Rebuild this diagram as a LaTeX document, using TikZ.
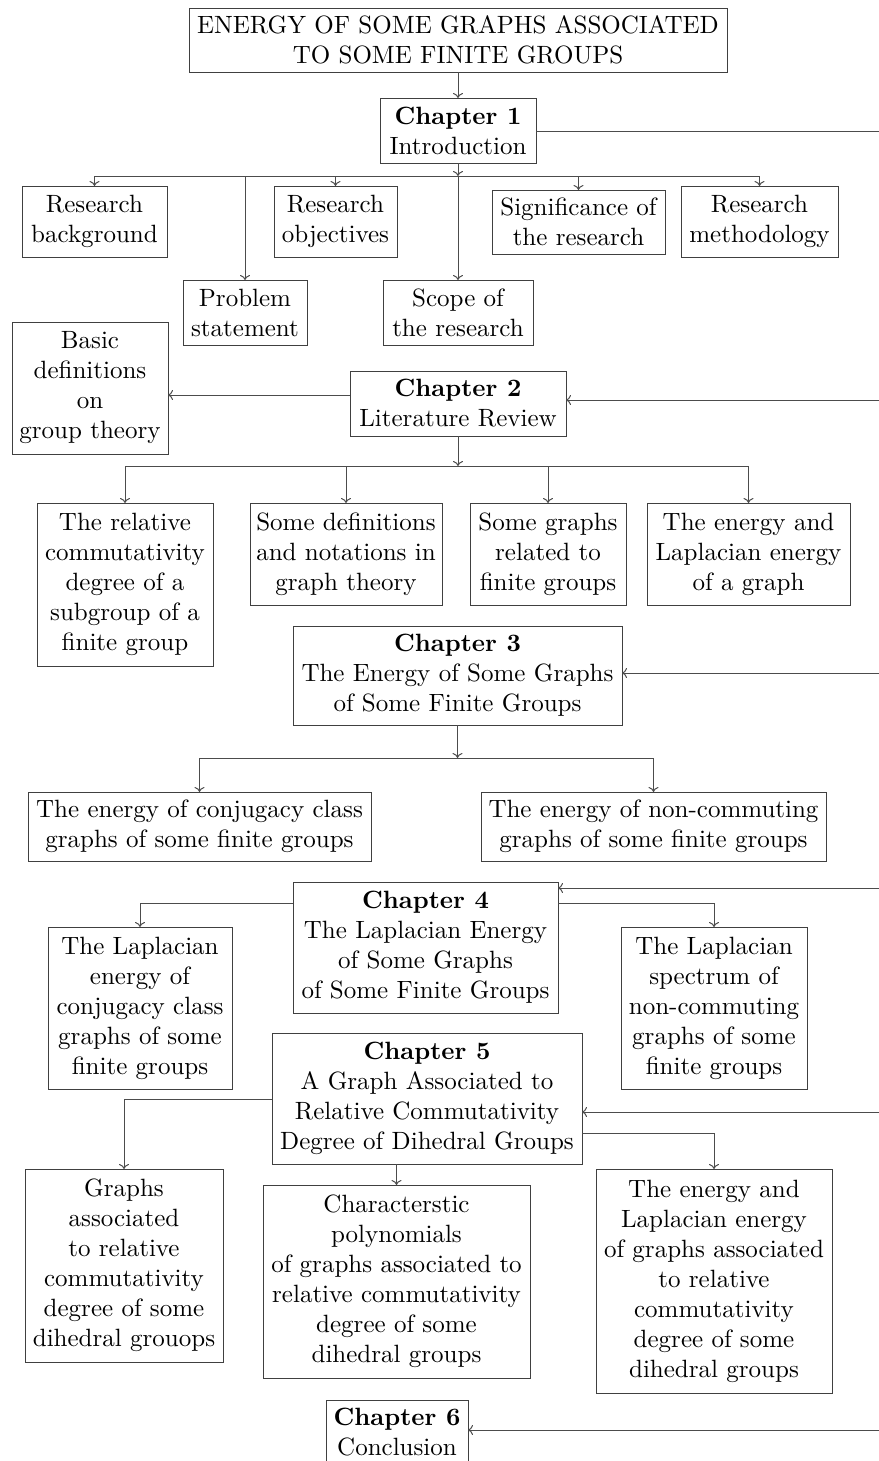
\documentclass[tikz,border=0pt]{standalone}
\usetikzlibrary{arrows.meta}
\newcommand\mybox[6]{\node[box,minimum width={(#4-#2)*0.4pt},minimum height={(#5-#3)*0.4pt}] (#1) at ({(#2+#4)/2},{(#3+#5)/2}) {#6};}
\begin{document}
\begin{tikzpicture}[x=0.4pt,y=-0.4pt,
  box/.style={draw=black!75, line width=0.4pt, align=center, inner sep=0pt, outer sep=0pt},
  ln/.style={draw=black!70, line width=0.4pt},
  arr/.style={ln, -{To[length=2pt,width=4pt]}}]
\useasboundingbox (0,0) rectangle (879,1461);
\clip (0,0) rectangle (879,1461);
% right edge coordinates
\coordinate (r1) at (879,131);
\coordinate (r2) at (879,400);
\coordinate (r3) at (879,673);
\coordinate (r4) at (879,888);
\coordinate (r5) at (879,1112);
\coordinate (r6) at (879,1430);
% boxes
\mybox{t}{189}{8}{727}{72}{ENERGY OF SOME GRAPHS ASSOCIATED\\TO SOME FINITE GROUPS}
\mybox{c1}{380}{98}{536}{163}{\textbf{Chapter 1}\\Introduction}
\mybox{rb}{22}{186}{167}{257}{Research\\background}
\mybox{ro}{274}{186}{397}{257}{Research\\objectives}
\mybox{sg}{492}{190}{665}{254}{Significance of\\the research}
\mybox{rm}{681}{186}{838}{257}{Research\\methodology}
\mybox{ps}{183}{280}{307}{345}{Problem\\statement}
\mybox{sc}{383}{280}{533}{345}{Scope of\\the research}
\mybox{bd}{12}{322}{168}{454}{Basic\\definitions\\on\\group theory}
\mybox{c2}{350}{371}{566}{436}{\textbf{Chapter 2}\\Literature Review}
\mybox{d1}{37}{503}{213}{666}{The relative\\commutativity\\degree of a\\subgroup of a\\finite group}
\mybox{d2}{250}{503}{442}{605}{Some definitions\\and notations in\\graph theory}
\mybox{d3}{470}{503}{626}{605}{Some graphs\\related to\\finite groups}
\mybox{d4}{647}{503}{850}{605}{The energy and\\Laplacian energy\\of a graph}
\mybox{c3}{293}{626}{622}{725}{\textbf{Chapter 3}\\The Energy of Some Graphs\\of Some Finite Groups}
\mybox{e1}{28}{792}{371}{861}{The energy of conjugacy class\\graphs of some finite groups}
\mybox{e2}{481}{792}{826}{861}{The energy of non-commuting\\graphs of some finite groups}
\mybox{c4}{293}{882}{558}{1013}{\textbf{Chapter 4}\\The Laplacian Energy\\of Some Graphs\\of Some Finite Groups}
\mybox{l1}{48}{927}{232}{1089}{The Laplacian\\energy of\\conjugacy class\\graphs of some\\finite groups}
\mybox{l2}{621}{927}{807}{1089}{The Laplacian\\spectrum of\\non-commuting\\graphs of some\\finite groups}
\mybox{c5}{272}{1033}{582}{1164}{\textbf{Chapter 5}\\A Graph Associated to\\Relative Commutativity\\Degree of Dihedral Groups}
\mybox{g1}{25}{1169}{223}{1362}{Graphs\\associated\\to relative\\commutativity\\degree of some\\dihedral grouops}
\mybox{g2}{263}{1185}{530}{1378}{Characterstic\\polynomials\\of graphs associated to\\relative commutativity\\degree of some\\dihedral groups}
\mybox{g3}{596}{1169}{832}{1393}{The energy and\\Laplacian energy\\of graphs associated\\to relative\\commutativity\\degree of some\\dihedral groups}
\mybox{c6}{326}{1400}{468}{1465}{\textbf{Chapter 6}\\Conclusion}
% chapter 1
\draw[arr] (t.south) -- (t.south |- c1.north);
\coordinate (b1) at (c1.south |- 0,176);
\draw[arr] (c1.south) -- (b1);
\foreach \n in {rb,ro,sg,rm,ps,sc} \draw[arr] (b1) -| (\n.north);
\draw[ln] (c1.east |- r1) -- (r1);
% chapter 2
\draw[arr] (r2) -- (r2 -| c2.east);
\draw[arr] ([yshift=3.4pt]c2.west) -- ([yshift=3.4pt]c2.west -| bd.east);
\coordinate (b2) at (c2.south |- 0,466);
\draw[arr] (c2.south) -- (b2);
\foreach \n in {d1,d2,d3,d4} \draw[arr] (b2) -| (\n.north);
% chapter 3
\draw[arr] (r3) -- (r3 -| c3.east);
\coordinate (b3) at (c3.south |- 0,758);
\draw[arr] (c3.south) -- (b3);
\foreach \n in {e1,e2} \draw[arr] (b3) -| (\n.north);
% chapter 4
\draw[arr] (r4) -- (r4 -| c4.east);
\coordinate (a4) at (c4.west |- 0,903);
\coordinate (a4r) at (c4.east |- 0,903);
\draw[arr] (a4) -| (l1.north);
\draw[arr] (a4r) -| (l2.north);
% chapter 5
\draw[arr] (r5) -- (r5 -| c5.east);
\coordinate (a5) at (c5.west |- 0,1099);
\coordinate (a5r) at (c5.east |- 0,1133);
\draw[arr] (a5) -| (g1.north);
\draw[arr] (a5r) -| (g3.north);
\draw[arr] (g2.north |- c5.south) -- (g2.north);
% chapter 6
\draw[arr] (r6) -- (r6 -| c6.east);
\end{tikzpicture}
\end{document}
